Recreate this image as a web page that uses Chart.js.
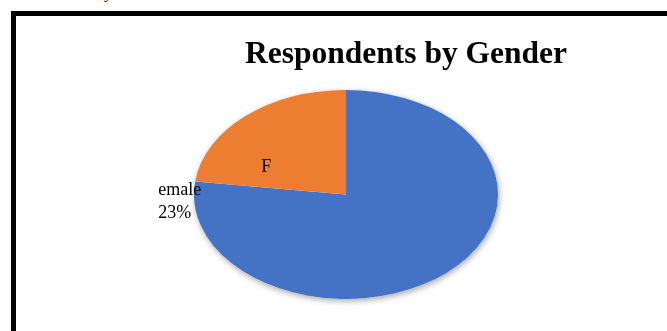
<!DOCTYPE html>
<html>
<head>
<meta charset="utf-8">
<script src="https://cdn.jsdelivr.net/npm/chart.js@4/dist/chart.umd.min.js"></script>
<style>
  html, body { margin: 0; padding: 0; background: #fff; overflow: hidden; }
  body { width: 667px; height: 331px; position: relative; }
  .frame { position: absolute; left: 11px; top: 11px; width: 800px; height: 400px;
           border-left: 5px solid #000; border-top: 5px solid #000; }
  .above { position: absolute; left: 104px; top: -16px; font: 16px 'Liberation Serif', serif; color: #000; }
  .chart-box { position: absolute; left: 16px; top: 16px; width: 780px; height: 315px; }
</style>
</head>
<body>
<div class="above">y</div>
<div class="frame"></div>
<div class="chart-box"><canvas id="genderChart"></canvas></div>
<script>
const chartTitle = "Respondents by Gender";
const genders = ["Male", "Female"];
const shares = [77, 23];
const sliceColors = ["#4472C4", "#ED7D31"];

// the pie is drawn squashed into an ellipse, this is the x stretch
const stretchX = 1.455;
const serif = "'Liberation Serif', 'Times New Roman', serif";

const ellipsePie = {
  id: "ellipsePie",
  beforeDatasetsDraw(chart) {
    const arc = chart.getDatasetMeta(0).data[0];
    if (!arc) return;
    const ctx = chart.ctx;
    ctx.save();
    ctx.translate(arc.x, arc.y);
    ctx.scale(stretchX, 1);
    ctx.translate(-arc.x, -arc.y);
    // soft drop shadow under the whole pie
    ctx.save();
    ctx.shadowColor = "rgba(0,0,0,0.35)";
    ctx.shadowBlur = 6;
    ctx.shadowOffsetX = 1;
    ctx.shadowOffsetY = 2;
    ctx.fillStyle = "#fff";
    ctx.beginPath();
    ctx.arc(arc.x, arc.y, arc.outerRadius, 0, Math.PI * 2);
    ctx.fill();
    ctx.restore();
  },
  afterDatasetsDraw(chart) {
    chart.ctx.restore();
  }
};

const titleAndLabels = {
  id: "titleAndLabels",
  afterDraw(chart) {
    const ctx = chart.ctx;
    ctx.save();
    ctx.fillStyle = "#000";
    ctx.font = "bold 31.5px " + serif;
    ctx.textAlign = "center";
    ctx.textBaseline = "alphabetic";
    ctx.fillText(chartTitle, chart.width / 2, 47.3);

    // female label sits on the rim where its slice starts
    const arc = chart.getDatasetMeta(0).data[1];
    const cx = arc.x, cy = arc.y;
    const rimX = cx + Math.cos(arc.startAngle) * arc.outerRadius * stretchX;
    const rimY = cy + Math.sin(arc.startAngle) * arc.outerRadius;
    const name = genders[1];
    ctx.font = "18px " + serif;
    ctx.textAlign = "center";
    ctx.fillText(name.charAt(0), rimX + 71, rimY - 9);
    ctx.textAlign = "left";
    ctx.fillText(name.slice(1), rimX - 37, rimY + 13.6);
    ctx.fillText(shares[1] + "%", rimX - 37, rimY + 36.6);
    ctx.restore();
  }
};

new Chart(document.getElementById("genderChart"), {
  type: "pie",
  data: {
    labels: genders,
    datasets: [{
      data: shares,
      backgroundColor: sliceColors,
      borderWidth: 0,
      offset: 0,
      hoverOffset: 0
    }]
  },
  options: {
    responsive: true,
    maintainAspectRatio: false,
    animation: false,
    events: [],
    layout: { padding: { top: 74, bottom: 32, left: 100, right: 220 } },
    plugins: {
      legend: { display: false },
      title: { display: false },
      tooltip: { enabled: false }
    }
  },
  plugins: [ellipsePie, titleAndLabels]
});
</script>
</body>
</html>
